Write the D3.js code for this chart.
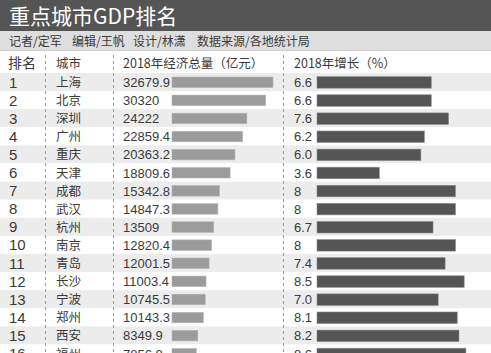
<!DOCTYPE html>
<html lang="zh">
<head>
<meta charset="UTF-8">
<title>重点城市GDP排名</title>
<script src="https://cdn.jsdelivr.net/npm/d3@7"></script>
<style>
  body { margin: 0; background: #fff; }
  svg { display: block; font-family: "Liberation Sans", "Noto Sans CJK SC", sans-serif; }
</style>
</head>
<body>
<svg id="svg"></svg>
<script>
var WIDTH = 491;
var HEIGHT = 353;

// data
var ranks = ["1","2","3","4","5","6","7","8","9","10","11","12","13","14","15","16"];
var cities = ["上海","北京","深圳","广州","重庆","天津","成都","武汉","杭州","南京","青岛","长沙","宁波","郑州","西安","福州"];
var gdp = [32679.9, 30320, 24222, 22859.4, 20363.2, 18809.6, 15342.8, 14847.3, 13509, 12820.4, 12001.5, 11003.4, 10745.5, 10143.3, 8349.9, 7856.8];
var gdpLabels = ["32679.9","30320","24222","22859.4","20363.2","18809.6","15342.8","14847.3","13509","12820.4","12001.5","11003.4","10745.5","10143.3","8349.9","7856.8"];
var growth = [6.6, 6.6, 7.6, 6.2, 6.0, 3.6, 8, 8, 6.7, 8, 7.4, 8.5, 7.0, 8.1, 8.2, 8.6];
var growthLabels = ["6.6","6.6","7.6","6.2","6.0","3.6","8","8","6.7","8","7.4","8.5","7.0","8.1","8.2","8.6"];
var credits = ["记者/定军", "编辑/王帆", "设计/林潇", "数据来源/各地统计局"];
var headers = ["排名", "城市", "2018年经济总量（亿元）", "2018年增长（%）"];

var ROW_TOP = 73;
var ROW_H = 18.1;
var TEXT = "#3a3a3a";

var svg = d3.select("#svg")
            .attr("width", WIDTH)
            .attr("height", HEIGHT);

// scales
var yScale = d3.scaleBand()
               .domain(ranks)
               .range([ROW_TOP, ROW_TOP + ranks.length * ROW_H])
               .padding(0);

var gdpScale = d3.scaleLinear()
                 .domain([0, d3.max(gdp)])
                 .range([172, 273]);

var growthScale = d3.scaleLinear()
                    .domain([0, 8])
                    .range([317, 455.5]);

// title bar
svg.append("rect")
   .attr("x", 0).attr("y", 0)
   .attr("width", WIDTH).attr("height", 31)
   .attr("fill", "#555");

svg.append("text")
   .attr("x", 9).attr("y", 24)
   .attr("fill", "#fff")
   .attr("font-size", 21)
   .attr("font-family", "'Noto Sans CJK SC', sans-serif")
   .text("重点城市GDP排名");

// credits bar
svg.append("rect")
   .attr("x", 0).attr("y", 31)
   .attr("width", WIDTH).attr("height", 19)
   .attr("fill", "#dedede");

svg.append("line")
   .attr("x1", 0).attr("x2", WIDTH)
   .attr("y1", 50.5).attr("y2", 50.5)
   .attr("stroke", "#cfcfcf");

var creditX = [9, 72, 133, 197];
svg.selectAll(".credit")
   .data(credits)
   .enter()
   .append("text")
   .attr("class", "credit")
   .attr("x", function(d, i){ return creditX[i]; })
   .attr("y", 46)
   .attr("fill", TEXT)
   .attr("font-size", 12)
   .attr("font-family", "'Noto Sans CJK SC', sans-serif")
   .text(function(d){ return d; });

// header row
var headerX = [8, 56, 123, 294];
var headerSize = [14, 12.5, 12.5, 12.5];
svg.selectAll(".header")
   .data(headers)
   .enter()
   .append("text")
   .attr("class", "header")
   .attr("x", function(d, i){ return headerX[i]; })
   .attr("y", 68)
   .attr("fill", TEXT)
   .attr("font-size", function(d, i){ return headerSize[i]; })
   .attr("font-family", "'Noto Sans CJK SC', sans-serif")
   .text(function(d){ return d; });

// row stripes
svg.append("g")
   .selectAll("rect")
   .data(ranks)
   .enter()
   .append("rect")
   .attr("x", 0)
   .attr("y", function(d){ return yScale(d); })
   .attr("width", WIDTH)
   .attr("height", yScale.bandwidth())
   .attr("fill", function(d, i){ return i % 2 === 0 ? "#ececec" : "#fff"; });

// dashed dividers
[45, 113, 283].forEach(function(x){
    svg.append("line")
       .attr("x1", x + 0.5).attr("x2", x + 0.5)
       .attr("y1", 55).attr("y2", HEIGHT)
       .attr("stroke", "#999")
       .attr("stroke-width", 1)
       .attr("stroke-dasharray", "3,3");
});

// rank numbers
svg.append("g")
   .selectAll("text")
   .data(ranks)
   .enter()
   .append("text")
   .attr("x", 9)
   .attr("y", function(d){ return yScale(d) + 14.5; })
   .attr("fill", TEXT)
   .attr("font-size", 15)
   .text(function(d){ return d; });

// city names
svg.append("g")
   .selectAll("text")
   .data(cities)
   .enter()
   .append("text")
   .attr("x", 56)
   .attr("y", function(d, i){ return yScale(ranks[i]) + 14; })
   .attr("fill", TEXT)
   .attr("font-size", 12.5)
   .attr("font-family", "'Noto Sans CJK SC', sans-serif")
   .text(function(d){ return d; });

// gdp labels
svg.append("g")
   .selectAll("text")
   .data(gdpLabels)
   .enter()
   .append("text")
   .attr("x", 123)
   .attr("y", function(d, i){ return yScale(ranks[i]) + 14; })
   .attr("fill", TEXT)
   .attr("font-size", 13)
   .text(function(d){ return d; });

// gdp bars
svg.append("g")
   .selectAll("rect")
   .data(gdp)
   .enter()
   .append("rect")
   .attr("x", gdpScale(0))
   .attr("y", function(d, i){ return yScale(ranks[i]) + 4; })
   .attr("width", function(d){ return gdpScale(d) - gdpScale(0); })
   .attr("height", 10.5)
   .attr("fill", "#9b9b9b")
   .attr("stroke", "#b5b5b5")
   .attr("stroke-width", 0.6);

// growth labels
svg.append("g")
   .selectAll("text")
   .data(growthLabels)
   .enter()
   .append("text")
   .attr("x", 294)
   .attr("y", function(d, i){ return yScale(ranks[i]) + 14; })
   .attr("fill", TEXT)
   .attr("font-size", 13)
   .text(function(d){ return d; });

// growth bars
svg.append("g")
   .selectAll("rect")
   .data(growth)
   .enter()
   .append("rect")
   .attr("x", growthScale(0))
   .attr("y", function(d, i){ return yScale(ranks[i]) + 3.7; })
   .attr("width", function(d){ return growthScale(d) - growthScale(0); })
   .attr("height", 11.5)
   .attr("fill", "#555")
   .attr("stroke", "#8a8a8a")
   .attr("stroke-width", 0.6);
</script>
</body>
</html>
